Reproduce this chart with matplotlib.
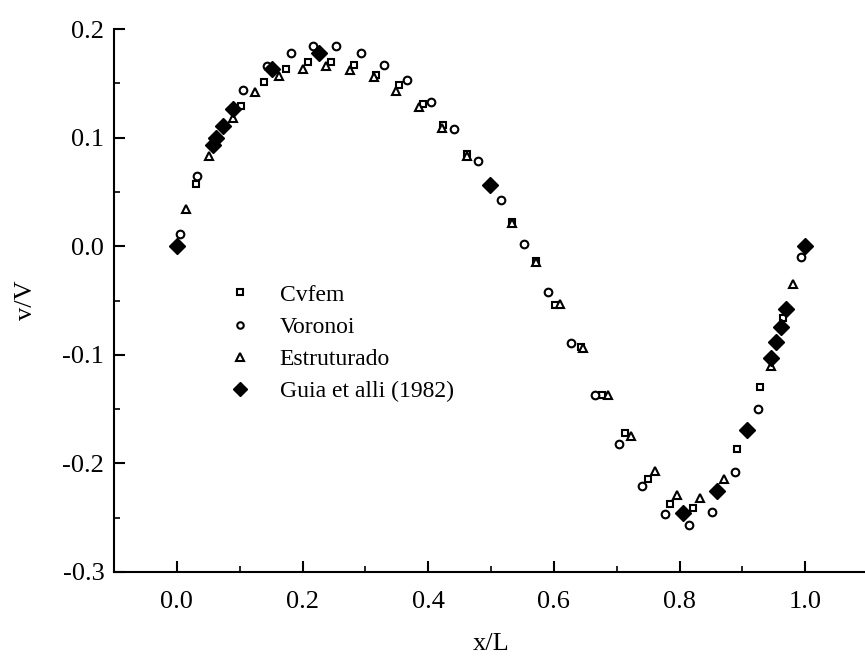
import numpy as np
import matplotlib.pyplot as plt
from matplotlib.ticker import MultipleLocator

plt.rcParams['font.family'] = ['Liberation Serif', 'DejaVu Serif']

# Cvfem (open squares)
cvfem_x = [0.031, 0.102, 0.138, 0.174, 0.209, 0.245, 0.282, 0.317, 0.354, 0.392,
           0.424, 0.462, 0.534, 0.572, 0.602, 0.644, 0.677, 0.714, 0.750, 0.785,
           0.822, 0.892, 0.928, 0.964]
cvfem_y = [0.057, 0.129, 0.151, 0.163, 0.170, 0.170, 0.167, 0.158, 0.148, 0.131,
           0.112, 0.085, 0.022, -0.014, -0.054, -0.093, -0.137, -0.172, -0.214, -0.237,
           -0.241, -0.187, -0.130, -0.066]

# Voronoi (open circles)
voronoi_x = [0.005, 0.032, 0.106, 0.143, 0.181, 0.217, 0.254, 0.293, 0.329, 0.366,
             0.404, 0.441, 0.479, 0.516, 0.553, 0.591, 0.627, 0.665, 0.703, 0.741,
             0.777, 0.815, 0.851, 0.888, 0.925, 0.994]
voronoi_y = [0.011, 0.065, 0.144, 0.166, 0.178, 0.184, 0.184, 0.178, 0.167, 0.153,
             0.133, 0.108, 0.078, 0.043, 0.002, -0.042, -0.089, -0.137, -0.182, -0.221,
             -0.247, -0.257, -0.245, -0.208, -0.150, -0.010]

# Estruturado (open triangles)
estrut_x = [0.015, 0.051, 0.089, 0.125, 0.163, 0.200, 0.237, 0.275, 0.313, 0.349,
            0.386, 0.422, 0.462, 0.534, 0.572, 0.610, 0.646, 0.686, 0.723, 0.761,
            0.796, 0.833, 0.871, 0.945, 0.981]
estrut_y = [0.034, 0.083, 0.118, 0.142, 0.157, 0.163, 0.166, 0.162, 0.156, 0.143,
            0.128, 0.109, 0.083, 0.021, -0.015, -0.053, -0.094, -0.137, -0.175, -0.207,
            -0.229, -0.232, -0.214, -0.110, -0.035]

# Guia et alli (1982) (filled diamonds)
guia_x = [0.0, 0.058, 0.063, 0.073, 0.090, 0.151, 0.227, 0.499, 0.806, 0.860,
          0.907, 0.945, 0.953, 0.961, 0.969, 1.0]
guia_y = [0.0, 0.093, 0.100, 0.111, 0.126, 0.163, 0.178, 0.056, -0.246, -0.225,
          -0.169, -0.103, -0.088, -0.074, -0.058, 0.0]

fig = plt.figure(figsize=(8.65, 6.66), dpi=100)
ax = fig.add_axes([114 / 865, 94 / 666, 754 / 865, 543 / 666])

mk = dict(linestyle='none', markerfacecolor='white', markeredgecolor='black',
          markeredgewidth=1.5, color='black')
ax.plot(cvfem_x, cvfem_y, marker='s', markersize=5, label='Cvfem', **mk)
ax.plot(voronoi_x, voronoi_y, marker='o', markersize=5.5, label='Voronoi', **mk)
ax.plot(estrut_x, estrut_y, marker='^', markersize=6, label='Estruturado', **mk)
ax.plot(guia_x, guia_y, marker='D', linestyle='none', markersize=8,
        color='black', label='Guia et alli (1982)')

ax.set_xlim(-0.1, 1.1)
ax.set_ylim(-0.3, 0.2)
ax.xaxis.set_minor_locator(MultipleLocator(0.1))
ax.yaxis.set_minor_locator(MultipleLocator(0.05))
ax.set_xticks([0.0, 0.2, 0.4, 0.6, 0.8, 1.0])
ax.set_xticklabels(['0.0', '0.2', '0.4', '0.6', '0.8', '1.0'])
ax.set_yticks([-0.3, -0.2, -0.1, 0.0, 0.1, 0.2])
ax.set_yticklabels(['-0.3', '-0.2', '-0.1', '0.0', '0.1', '0.2'])

ax.spines['top'].set_visible(False)
ax.spines['right'].set_visible(False)
for s in ['left', 'bottom']:
    ax.spines[s].set_linewidth(1.5)
ax.tick_params(which='major', direction='in', length=8, width=1.5, labelsize=19)
ax.tick_params(axis='x', which='major', pad=14)
ax.tick_params(axis='y', which='major', pad=7)
ax.tick_params(which='minor', direction='in', length=4, width=1.2)

ax.set_xlabel('x/L', fontsize=19, labelpad=14)
ax.set_ylabel('v/V', fontsize=19, labelpad=18)

ax.legend(loc='upper left', bbox_to_anchor=(0.151, 0.53), frameon=False,
          fontsize=17, handlelength=1.0, handletextpad=1.2, labelspacing=0.45,
          borderpad=0, borderaxespad=0, markerscale=0.85)

fig.savefig('out.png', dpi=100)
